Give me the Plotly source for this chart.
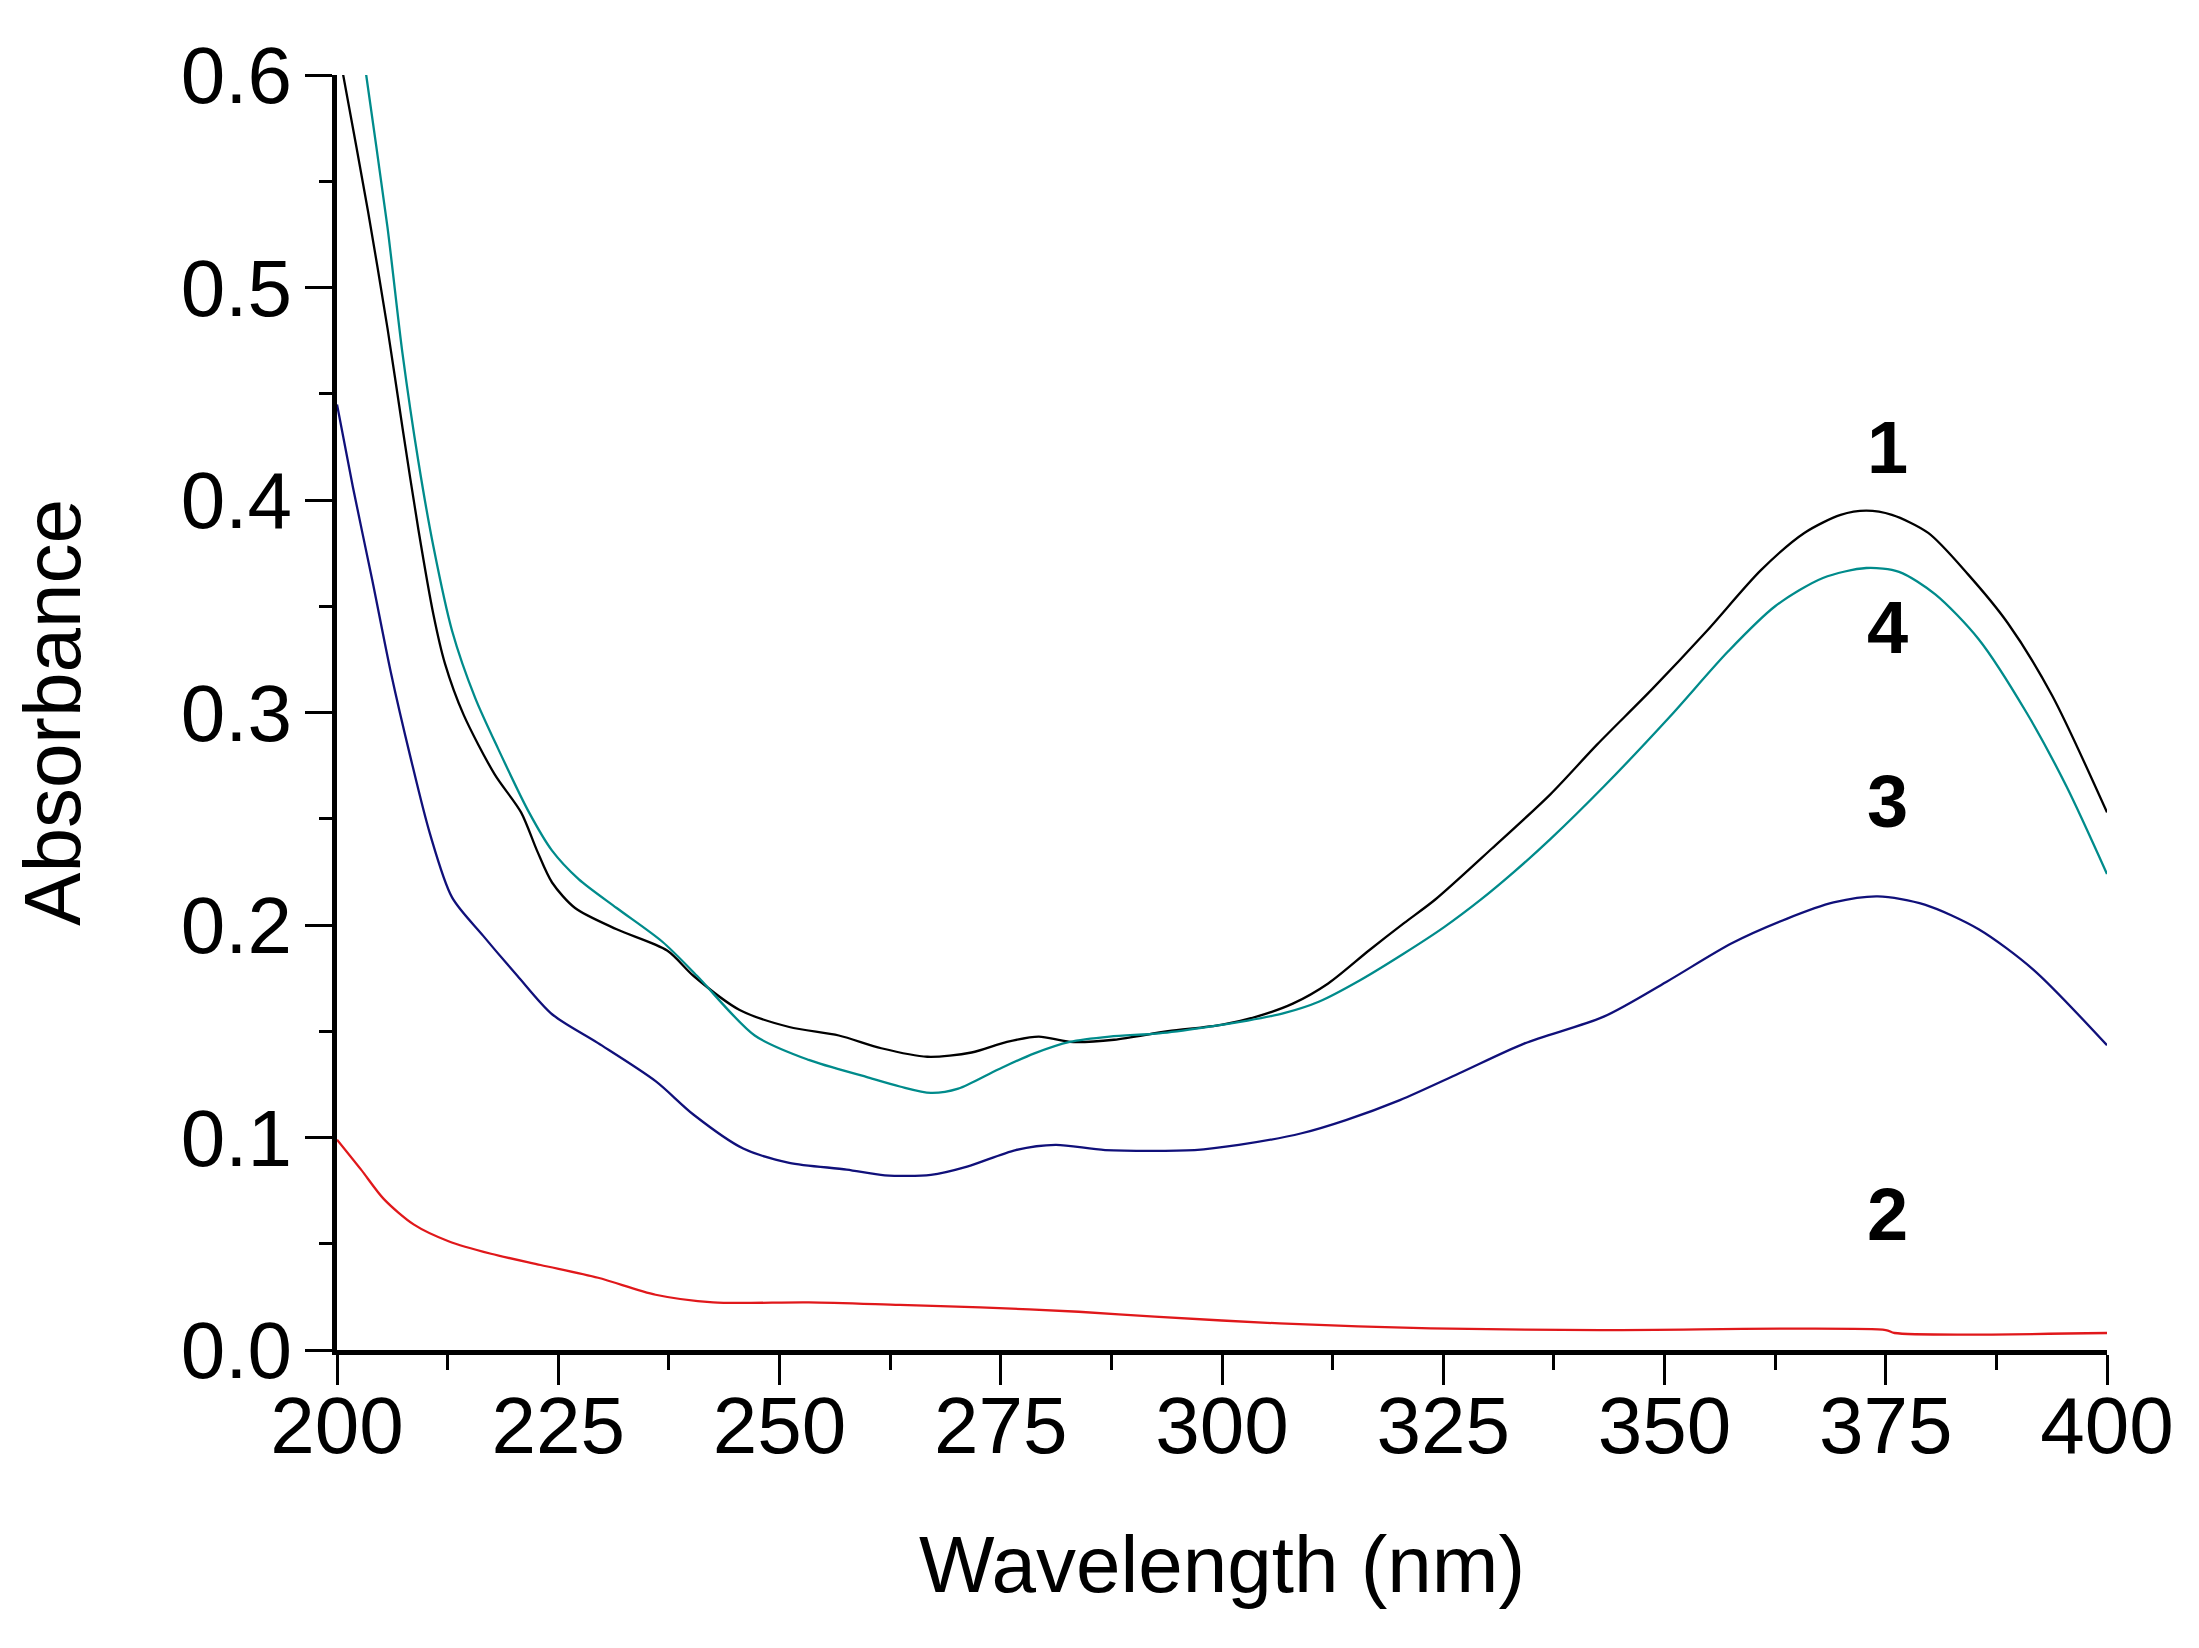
import plotly.graph_objects as go

# UV-Vis absorbance spectra
wl_1 = [200.0, 200.7, 203.5, 205.7, 207.4, 209.2, 210.9, 212.2, 214.3, 217.8, 220.8, 222.6, 224.3,
        226.9, 231.6, 237.3, 240.3, 245.5, 251.1, 256.7, 261.5, 266.7, 271.7, 275.7, 279.3, 282.8,
        287.8, 293.9, 299.9, 304.0, 308.0, 312.0, 316.6, 320.6, 324.1, 330.5, 337.1, 342.4, 348.6,
        354.7, 360.9, 365.8, 369.9, 372.8, 375.7, 379.8, 384.3, 388.8, 393.8, 400.0]
abs_1 = [0.616, 0.600, 0.536, 0.481, 0.434, 0.386, 0.346, 0.323, 0.299, 0.271, 0.253, 0.235, 0.220,
         0.208, 0.198, 0.188, 0.176, 0.160, 0.152, 0.148, 0.142, 0.138, 0.140, 0.145, 0.1475, 0.145,
         0.146, 0.150, 0.153, 0.157, 0.163, 0.1725, 0.188, 0.201, 0.212, 0.236, 0.2615, 0.285, 0.311,
         0.338, 0.367, 0.3845, 0.393, 0.395, 0.393, 0.3845, 0.365, 0.342, 0.308, 0.253]

wl_2 = [200.0, 202.7, 205.3, 208.7, 212.6, 217.4, 223.0, 229.5, 236.0, 242.5, 253.3, 263.6, 272.7,
        283.8, 292.4, 306.5, 323.6, 342.7, 375.0, 376.0, 400.0]
abs_2 = [0.099, 0.085, 0.071, 0.059, 0.0512, 0.0453, 0.040, 0.034, 0.026, 0.0224, 0.0224, 0.0212,
         0.0201, 0.018, 0.0157, 0.0125, 0.0102, 0.0094, 0.0094, 0.0080, 0.0080]

wl_3 = [200.0, 201.8, 204.0, 206.1, 208.3, 210.5, 213.0, 216.5, 220.4, 224.3, 229.5, 236.0, 240.3,
        245.9, 251.1, 257.6, 261.9, 267.1, 271.2, 276.7, 281.2, 286.8, 296.9, 301.9, 309.0, 314.0,
        320.1, 326.7, 334.2, 343.2, 350.2, 357.6, 363.8, 369.1, 374.1, 379.4, 385.5, 391.7, 400.0]
abs_3 = [0.445, 0.406, 0.362, 0.3186, 0.279, 0.243, 0.213, 0.195, 0.176, 0.158, 0.1444, 0.1265,
         0.1107, 0.0948, 0.0881, 0.0849, 0.0822, 0.0824, 0.0863, 0.0941, 0.0965, 0.0941, 0.0941,
         0.0965, 0.102, 0.1082, 0.1176, 0.130, 0.1443, 0.157, 0.1732, 0.1914, 0.2029, 0.2106,
         0.2135, 0.2096, 0.198, 0.1789, 0.1434]

wl_4 = [200.0, 203.3, 205.7, 207.4, 209.2, 210.9, 213.0, 215.6, 218.2, 221.7, 224.3, 227.3, 231.6,
        236.8, 240.7, 247.2, 253.3, 259.8, 263.6, 267.1, 270.2, 274.7, 278.8, 282.8, 287.3, 292.9,
        297.9, 302.9, 307.0, 311.0, 315.6, 320.6, 325.1, 329.2, 333.0, 337.1, 343.2, 350.6, 357.2,
        362.5, 367.9, 372.8, 376.5, 380.6, 385.5, 390.9, 395.4, 400.0]
abs_4 = [0.700, 0.600, 0.5285, 0.469, 0.418, 0.378, 0.3385, 0.307, 0.283, 0.253, 0.235, 0.2216,
         0.208, 0.192, 0.176, 0.148, 0.1365, 0.1285, 0.124, 0.121, 0.123, 0.132, 0.1396, 0.145,
         0.1475, 0.149, 0.1517, 0.155, 0.1585, 0.164, 0.174, 0.1867, 0.199, 0.2118, 0.225, 0.2404,
         0.2654, 0.298, 0.3288, 0.350, 0.3633, 0.368, 0.3662, 0.3556, 0.3345, 0.300, 0.2654, 0.224]

# curve labels (number, wavelength, absorbance position)
curve_labels = ["1", "4", "3", "2"]
label_x = [375.2, 375.2, 375.2, 375.2]
label_y = [0.4245, 0.340, 0.258, 0.064]

font = "Liberation Sans, Arial, sans-serif"

fig = go.Figure()
series = [(wl_1, abs_1, '#000000'), (wl_2, abs_2, '#e0181b'),
          (wl_3, abs_3, '#10107a'), (wl_4, abs_4, '#008b8b')]
for i, (wx, wy, col) in enumerate(series):
    fig.add_trace(go.Scatter(x=wx, y=wy, mode='lines', name=str(i + 1),
                             line=dict(color=col, width=2.3, shape='spline', smoothing=0.8)))

for t, xx, yy in zip(curve_labels, label_x, label_y):
    fig.add_annotation(x=xx, y=yy, text="<b>%s</b>" % t, showarrow=False,
                       font=dict(family=font, size=74, color='black'))

# page body has an 8px margin, so the figure is shrunk by that amount
fig.update_layout(
    width=2191, height=1640, autosize=False,
    margin=dict(l=329, r=92, t=67, b=298),
    plot_bgcolor='white', paper_bgcolor='white',
    showlegend=False,
    font=dict(family=font, size=80, color='black'),
)
fig.update_xaxes(
    range=[200, 400], dtick=25, tick0=200,
    showline=True, linewidth=5, linecolor='black', mirror=False,
    ticks='outside', ticklen=30, tickwidth=3, tickcolor='black',
    minor=dict(dtick=12.5, ticks='outside', ticklen=15, tickwidth=3, tickcolor='black', showgrid=False),
    showgrid=False, zeroline=False,
    tickfont=dict(size=80), ticklabelstandoff=-28,
    title=dict(text='Wavelength (nm)', font=dict(size=80), standoff=68),
)
fig.update_yaxes(
    range=[0, 0.6], dtick=0.1, tick0=0, tickformat='.1f',
    showline=True, linewidth=5, linecolor='black', mirror=False,
    ticks='outside', ticklen=27, tickwidth=3, tickcolor='black',
    minor=dict(dtick=0.05, ticks='outside', ticklen=13, tickwidth=3, tickcolor='black', showgrid=False),
    showgrid=False, zeroline=False,
    tickfont=dict(size=80), ticklabelstandoff=-3,
    title=dict(text='Absorbance', font=dict(size=80), standoff=104),
)

fig.write_html("out.html")
